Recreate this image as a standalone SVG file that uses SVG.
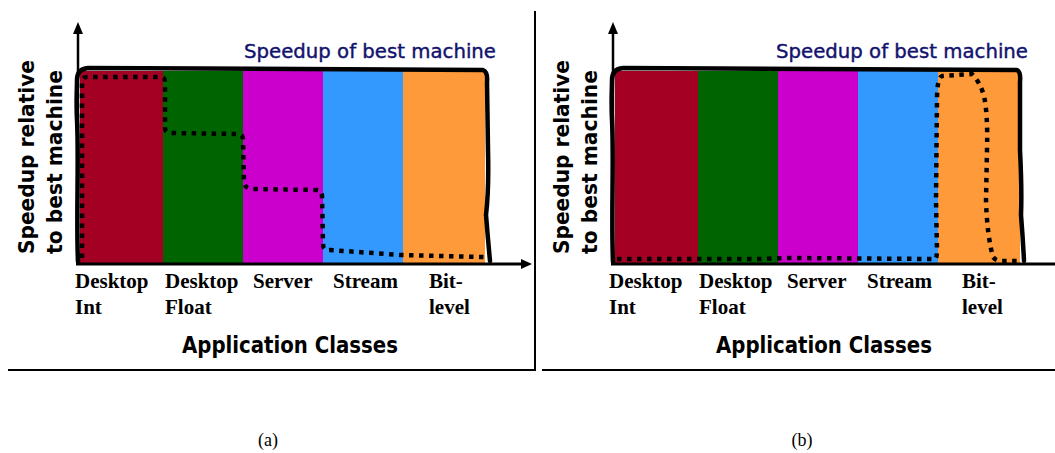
<svg xmlns="http://www.w3.org/2000/svg" width="1055" height="453" viewBox="0 0 1055 453">
  <style>
    .col-int { fill: #a30024; }
    .col-float { fill: #006400; }
    .col-server { fill: #cc00cc; }
    .col-stream { fill: #3399ff; }
    .col-bit { fill: #ff9a3a; }
    .border { fill: none; stroke: #000; stroke-width: 4.5; stroke-linecap: round; stroke-linejoin: round; }
    .axis { fill: none; stroke: #000; stroke-width: 2.5; }
    .xaxis { fill: none; stroke: #000; stroke-width: 3; }
    .dots { fill: none; stroke: #000; stroke-width: 4.5; stroke-dasharray: 4.5 5.5; }
    .frame { fill: none; stroke: #000; stroke-width: 2; }
    .title { font-family: "DejaVu Sans", "Noto Sans", sans-serif; font-size: 19px; fill: #12126e; stroke: #12126e; stroke-width: 0.4; }
    .ylab { font-family: "DejaVu Sans", "Noto Sans", sans-serif; font-size: 22px; font-weight: bold; fill: #000; }
    .xlab { font-family: "Liberation Serif", "Times New Roman", serif; font-size: 21px; font-weight: bold; fill: #000; }
    .xtitle { font-family: "DejaVu Sans", "Noto Sans", sans-serif; font-size: 23px; font-weight: bold; fill: #000; }
    .cap { font-family: "Liberation Serif", "Times New Roman", serif; font-size: 18px; fill: #000; }
  </style>

  <!-- Panel frame lines -->
  <g id="frame">
    <line class="frame" x1="535" y1="11" x2="535" y2="371"/>
    <line class="frame" x1="8" y1="370" x2="535" y2="370"/>
    <line class="frame" x1="542" y1="370" x2="1055" y2="370"/>
  </g>

  <!-- Panel (a) -->
  <g id="panel-a">
    <g id="a-desktop-int"><rect class="col-int" x="80" y="71" width="83" height="192"/></g>
    <g id="a-desktop-float"><rect class="col-float" x="163" y="71" width="80" height="192"/></g>
    <g id="a-server"><rect class="col-server" x="243" y="71" width="80" height="192"/></g>
    <g id="a-stream"><rect class="col-stream" x="323" y="71" width="80" height="192"/></g>
    <g id="a-bit-level"><rect class="col-bit" x="403" y="71" width="82" height="192"/></g>

    <g id="a-connectors">
      <path class="border" d="M78,262 C76,220 79,160 77,120 C76,100 77,90 77,80 Q77,69 88,68 L483,70 Q488,72 487,82 L488,150 Q489,190 486,215 Q488,240 490,261"/>
      <line class="axis" x1="78" y1="32" x2="78" y2="263"/>
      <polygon points="78,22 73,34 83,34" fill="#000"/>
      <line class="xaxis" x1="76" y1="264" x2="523" y2="264"/>
      <polygon points="532,264 521,259 521,269" fill="#000"/>
      <path class="dots" d="M82,258 L82,82 Q82,77 87,77 L160,77 Q165,77 165,82 L165,128 Q165,133 172,133 L238,134 Q243,134 243,140 L244,182 Q245,189 252,189 L316,190 Q322,190 322,196 L323,244 Q323,251 330,250 L400,255 L484,257"/>
    </g>

    <text class="title" x="244" y="58" textLength="252" lengthAdjust="spacingAndGlyphs">Speedup of best machine</text>
    <text class="ylab" transform="translate(34,254) rotate(-90)" textLength="194" lengthAdjust="spacingAndGlyphs">Speedup relative</text>
    <text class="ylab" transform="translate(62,254) rotate(-90)" textLength="184" lengthAdjust="spacingAndGlyphs">to best machine</text>
    <text class="xlab" x="75" y="288">Desktop</text>
    <text class="xlab" x="75" y="314">Int</text>
    <text class="xlab" x="165" y="288">Desktop</text>
    <text class="xlab" x="165" y="314">Float</text>
    <text class="xlab" x="253" y="288">Server</text>
    <text class="xlab" x="333" y="288">Stream</text>
    <text class="xlab" x="429" y="288">Bit-</text>
    <text class="xlab" x="429" y="314">level</text>
    <text class="xtitle" x="182" y="353" textLength="216" lengthAdjust="spacingAndGlyphs">Application Classes</text>
  </g>

  <!-- Panel (b) -->
  <g id="panel-b">
    <g id="b-desktop-int"><rect class="col-int" x="615" y="71" width="83" height="192"/></g>
    <g id="b-desktop-float"><rect class="col-float" x="698" y="71" width="80" height="192"/></g>
    <g id="b-server"><rect class="col-server" x="778" y="71" width="80" height="192"/></g>
    <g id="b-stream"><rect class="col-stream" x="858" y="71" width="80" height="192"/></g>
    <g id="b-bit-level"><rect class="col-bit" x="938" y="71" width="82" height="192"/></g>

    <g id="b-connectors">
      <path class="border" d="M613,262 C611,220 614,160 612,120 C611,100 612,90 612,80 Q612,69 623,68 L1017,70 Q1021,72 1020,82 L1020,150 Q1022,190 1021,215 Q1023,240 1024,261"/>
      <line class="axis" x1="613" y1="32" x2="613" y2="263"/>
      <polygon points="613,22 608,34 618,34" fill="#000"/>
      <line class="xaxis" x1="611" y1="264" x2="1055" y2="264"/>
      <path class="dots" d="M617,259 L760,259 L790,258 L935,259 Q937,258 937,250 L936,200 L937,100 Q937,78 942,76 L972,74 Q980,82 984,96 Q988,115 987,150 L986,200 Q987,235 993,257 Q996,261 1002,261 L1018,261"/>
    </g>

    <text class="title" x="776" y="58" textLength="252" lengthAdjust="spacingAndGlyphs">Speedup of best machine</text>
    <text class="ylab" transform="translate(569,254) rotate(-90)" textLength="194" lengthAdjust="spacingAndGlyphs">Speedup relative</text>
    <text class="ylab" transform="translate(597,254) rotate(-90)" textLength="184" lengthAdjust="spacingAndGlyphs">to best machine</text>
    <text class="xlab" x="609" y="288">Desktop</text>
    <text class="xlab" x="609" y="314">Int</text>
    <text class="xlab" x="699" y="288">Desktop</text>
    <text class="xlab" x="699" y="314">Float</text>
    <text class="xlab" x="787" y="288">Server</text>
    <text class="xlab" x="867" y="288">Stream</text>
    <text class="xlab" x="962" y="288">Bit-</text>
    <text class="xlab" x="962" y="314">level</text>
    <text class="xtitle" x="716" y="353" textLength="216" lengthAdjust="spacingAndGlyphs">Application Classes</text>
  </g>

  <!-- Sub-figure captions -->
  <g id="captions">
    <text class="cap" x="268" y="446" text-anchor="middle">(a)</text>
    <text class="cap" x="802" y="446" text-anchor="middle">(b)</text>
  </g>
</svg>
